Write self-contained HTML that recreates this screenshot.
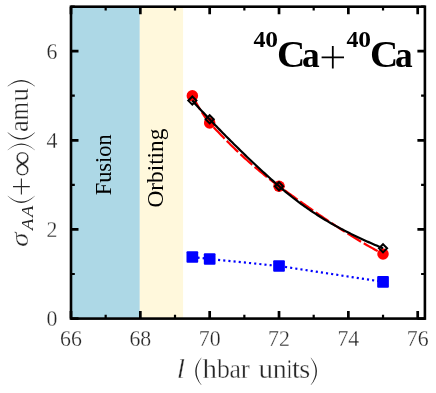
<!DOCTYPE html>
<html><head><meta charset="utf-8"><title>chart</title>
<style>html,body{margin:0;padding:0;background:#fff;}svg{display:block;will-change:transform;}text{font-family:"Liberation Serif",serif;}</style></head><body>
<svg width="436" height="393" viewBox="0 0 436 393">
<rect width="436" height="393" fill="#fff"/>
<rect x="71.00" y="6.70" width="68.80" height="311.90" fill="#ADD8E6"/>
<rect x="139.80" y="6.70" width="43.30" height="311.90" fill="#FFF8DC"/>
<text transform="translate(111.4,195.3) rotate(-90)" font-size="23" textLength="61" lengthAdjust="spacingAndGlyphs" fill="#000">Fusion</text>
<text transform="translate(162.5,207.6) rotate(-90)" font-size="22.5" textLength="79" lengthAdjust="spacingAndGlyphs" fill="#000">Orbiting</text>
<polyline points="192.34,95.70 193.95,98.71 195.55,101.65 197.15,104.52 198.75,107.29 200.36,109.96 201.96,112.52 203.56,114.96 205.16,117.25 206.77,119.40 208.37,121.39 209.97,123.21 211.57,124.97 213.18,126.71 214.78,128.43 216.38,130.14 217.98,131.84 219.59,133.52 221.19,135.19 222.79,136.85 224.39,138.49 226.00,140.12 227.60,141.74 229.20,143.34 230.80,144.92 232.40,146.50 234.01,148.06 235.61,149.60 237.21,151.13 238.81,152.65 240.42,154.15 242.02,155.64 243.62,157.12 245.22,158.58 246.83,160.03 248.43,161.46 250.03,162.89 251.63,164.29 253.24,165.69 254.84,167.06 256.44,168.43 258.04,169.78 259.65,171.12 261.25,172.44 262.85,173.75 264.45,175.05 266.06,176.33 267.66,177.60 269.26,178.85 270.86,180.10 272.46,181.32 274.07,182.54 275.67,183.73 277.27,184.92 278.87,186.09 280.48,187.25 282.08,188.42 283.68,189.58 285.28,190.74 286.89,191.90 288.49,193.05 290.09,194.21 291.69,195.36 293.30,196.51 294.90,197.66 296.50,198.81 298.10,199.95 299.71,201.09 301.31,202.23 302.91,203.37 304.51,204.50 306.12,205.64 307.72,206.76 309.32,207.89 310.92,209.01 312.52,210.13 314.13,211.24 315.73,212.35 317.33,213.46 318.93,214.56 320.54,215.66 322.14,216.76 323.74,217.85 325.34,218.93 326.95,220.02 328.55,221.09 330.15,222.16 331.75,223.23 333.36,224.29 334.96,225.35 336.56,226.40 338.16,227.45 339.77,228.48 341.37,229.52 342.97,230.55 344.57,231.57 346.17,232.59 347.78,233.59 349.38,234.60 350.98,235.59 352.58,236.58 354.19,237.57 355.79,238.54 357.39,239.51 358.99,240.48 360.60,241.43 362.20,242.38 363.80,243.32 365.40,244.25 367.01,245.17 368.61,246.09 370.21,247.00 371.81,247.90 373.42,248.79 375.02,249.67 376.62,250.55 378.22,251.41 379.83,252.27 381.43,253.12 383.03,253.96" fill="none" stroke="#ff0000" stroke-width="2.2" stroke-dasharray="15.95 3.1"/>
<circle cx="192.34" cy="95.70" r="5.75" fill="#ff0000"/>
<circle cx="209.68" cy="122.89" r="5.75" fill="#ff0000"/>
<circle cx="279.02" cy="186.20" r="5.75" fill="#ff0000"/>
<circle cx="383.03" cy="253.96" r="5.75" fill="#ff0000"/>
<polyline points="192.34,100.60 193.95,102.41 195.55,104.20 197.15,105.97 198.75,107.72 200.36,109.45 201.96,111.16 203.56,112.87 205.16,114.57 206.77,116.26 208.37,117.95 209.97,119.63 211.57,121.32 213.18,122.99 214.78,124.66 216.38,126.32 217.98,127.98 219.59,129.63 221.19,131.27 222.79,132.91 224.39,134.54 226.00,136.16 227.60,137.78 229.20,139.39 230.80,140.99 232.40,142.59 234.01,144.18 235.61,145.76 237.21,147.34 238.81,148.91 240.42,150.48 242.02,152.03 243.62,153.58 245.22,155.13 246.83,156.67 248.43,158.20 250.03,159.73 251.63,161.24 253.24,162.76 254.84,164.26 256.44,165.76 258.04,167.26 259.65,168.74 261.25,170.22 262.85,171.69 264.45,173.16 266.06,174.62 267.66,176.08 269.26,177.52 270.86,178.96 272.46,180.40 274.07,181.83 275.67,183.25 277.27,184.66 278.87,186.07 280.48,187.47 282.08,188.84 283.68,190.21 285.28,191.55 286.89,192.87 288.49,194.18 290.09,195.47 291.69,196.74 293.30,198.00 294.90,199.24 296.50,200.46 298.10,201.67 299.71,202.86 301.31,204.04 302.91,205.20 304.51,206.34 306.12,207.47 307.72,208.59 309.32,209.69 310.92,210.77 312.52,211.85 314.13,212.90 315.73,213.95 317.33,214.98 318.93,216.00 320.54,217.00 322.14,217.99 323.74,218.97 325.34,219.94 326.95,220.89 328.55,221.83 330.15,222.76 331.75,223.68 333.36,224.59 334.96,225.49 336.56,226.37 338.16,227.25 339.77,228.11 341.37,228.97 342.97,229.81 344.57,230.64 346.17,231.47 347.78,232.29 349.38,233.09 350.98,233.89 352.58,234.68 354.19,235.46 355.79,236.23 357.39,236.99 358.99,237.75 360.60,238.50 362.20,239.24 363.80,239.97 365.40,240.70 367.01,241.42 368.61,242.13 370.21,242.84 371.81,243.54 373.42,244.24 375.02,244.93 376.62,245.61 378.22,246.29 379.83,246.96 381.43,247.63 383.03,248.30" fill="none" stroke="#000" stroke-width="2.2"/>
<path d="M192.34 96.53L196.41 100.60L192.34 104.67L188.28 100.60Z" fill="none" stroke="#000" stroke-width="2" stroke-linejoin="miter"/>
<path d="M209.68 115.26L213.75 119.33L209.68 123.40L205.61 119.33Z" fill="none" stroke="#000" stroke-width="2" stroke-linejoin="miter"/>
<path d="M279.02 182.13L283.09 186.20L279.02 190.27L274.95 186.20Z" fill="none" stroke="#000" stroke-width="2" stroke-linejoin="miter"/>
<path d="M383.03 244.23L387.10 248.30L383.03 252.37L378.96 248.30Z" fill="none" stroke="#000" stroke-width="2" stroke-linejoin="miter"/>
<polyline points="192.34,256.99 209.68,259.00 279.02,266.00 383.03,281.82" fill="none" stroke="#0000ff" stroke-width="2.2" stroke-dasharray="2.1 3.08"/>
<rect x="186.50" y="251.14" width="11.70" height="11.70" rx="1" fill="#0000ff"/>
<rect x="203.83" y="253.15" width="11.70" height="11.70" rx="1" fill="#0000ff"/>
<rect x="273.17" y="260.15" width="11.70" height="11.70" rx="1" fill="#0000ff"/>
<rect x="377.18" y="275.97" width="11.70" height="11.70" rx="1" fill="#0000ff"/>
<path d="M71.00 318.60v-7.50M71.00 6.70v7.50M140.34 318.60v-7.50M140.34 6.70v7.50M209.68 318.60v-7.50M209.68 6.70v7.50M279.02 318.60v-7.50M279.02 6.70v7.50M348.36 318.60v-7.50M348.36 6.70v7.50M417.70 318.60v-7.50M417.70 6.70v7.50M71.00 318.60h7.50M424.90 318.60h-7.50M71.00 229.44h7.50M424.90 229.44h-7.50M71.00 140.28h7.50M424.90 140.28h-7.50M71.00 51.12h7.50M424.90 51.12h-7.50" stroke="#000" stroke-width="2.7" fill="none"/>
<path d="M105.67 318.60v-3.80M105.67 6.70v3.80M175.01 318.60v-3.80M175.01 6.70v3.80M244.35 318.60v-3.80M244.35 6.70v3.80M313.69 318.60v-3.80M313.69 6.70v3.80M383.03 318.60v-3.80M383.03 6.70v3.80M71.00 274.02h3.80M424.90 274.02h-3.80M71.00 184.86h3.80M424.90 184.86h-3.80M71.00 95.70h3.80M424.90 95.70h-3.80M71.00 6.54h3.80M424.90 6.54h-3.80" stroke="#000" stroke-width="2.2" fill="none"/>
<rect x="71.00" y="6.70" width="353.90" height="311.90" fill="none" stroke="#000" stroke-width="2.6"/>
<text transform="translate(71.00,346.2) scale(0.91,1)" text-anchor="middle" font-size="24" fill="#262626" stroke="#fff" stroke-width="0.3">66</text>
<text transform="translate(140.34,346.2) scale(0.91,1)" text-anchor="middle" font-size="24" fill="#262626" stroke="#fff" stroke-width="0.3">68</text>
<text transform="translate(209.68,346.2) scale(0.91,1)" text-anchor="middle" font-size="24" fill="#262626" stroke="#fff" stroke-width="0.3">70</text>
<text transform="translate(279.02,346.2) scale(0.91,1)" text-anchor="middle" font-size="24" fill="#262626" stroke="#fff" stroke-width="0.3">72</text>
<text transform="translate(348.36,346.2) scale(0.91,1)" text-anchor="middle" font-size="24" fill="#262626" stroke="#fff" stroke-width="0.3">74</text>
<text transform="translate(417.70,346.2) scale(0.91,1)" text-anchor="middle" font-size="24" fill="#262626" stroke="#fff" stroke-width="0.3">76</text>
<text transform="translate(57.4,326.30) scale(0.91,1)" text-anchor="end" font-size="24" fill="#262626" stroke="#fff" stroke-width="0.3">0</text>
<text transform="translate(57.4,237.14) scale(0.91,1)" text-anchor="end" font-size="24" fill="#262626" stroke="#fff" stroke-width="0.3">2</text>
<text transform="translate(57.4,147.98) scale(0.91,1)" text-anchor="end" font-size="24" fill="#262626" stroke="#fff" stroke-width="0.3">4</text>
<text transform="translate(57.4,58.82) scale(0.91,1)" text-anchor="end" font-size="24" fill="#262626" stroke="#fff" stroke-width="0.3">6</text>
<text transform="translate(176.72,378.40) scale(1.122,1)" font-size="26.40" font-style="italic" fill="#262626" stroke="#fff" stroke-width="0.35">l</text>
<path d="M201.20 357.70Q189.20 371.40 201.20 385.10L201.55 385.10Q191.65 371.40 201.55 357.70Z" fill="#262626"/>
<text transform="translate(202.42,378.40) scale(1.092,1)" font-size="26.50" fill="#262626" stroke="#fff" stroke-width="0.35">h</text>
<text transform="translate(217.10,378.40) scale(0.972,1)" font-size="26.50" fill="#262626" stroke="#fff" stroke-width="0.35">b</text>
<text transform="translate(229.59,378.40) scale(0.974,1)" font-size="26.50" fill="#262626" stroke="#fff" stroke-width="0.35">a</text>
<text transform="translate(240.86,378.40) scale(1.017,1)" font-size="26.50" fill="#262626" stroke="#fff" stroke-width="0.35">r</text>
<text transform="translate(258.42,378.40) scale(1.101,1)" font-size="26.50" fill="#262626" stroke="#fff" stroke-width="0.35">u</text>
<text transform="translate(272.76,378.40) scale(1.054,1)" font-size="26.50" fill="#262626" stroke="#fff" stroke-width="0.35">n</text>
<text transform="translate(286.79,378.40) scale(0.730,1)" font-size="26.50" fill="#262626" stroke="#fff" stroke-width="0.35">i</text>
<text transform="translate(292.02,378.40) scale(1.065,1)" font-size="26.50" fill="#262626" stroke="#fff" stroke-width="0.35">t</text>
<text transform="translate(299.24,378.40) scale(1.064,1)" font-size="26.50" fill="#262626" stroke="#fff" stroke-width="0.35">s</text>
<path d="M311.00 357.70Q323.00 371.40 311.00 385.10L310.65 385.10Q320.55 371.40 310.65 357.70Z" fill="#262626"/>
<g transform="translate(28,246.1) rotate(-90)">
<text transform="translate(-0.87,0.20) scale(1.195,1)" font-size="24.50" font-style="italic" fill="#262626" stroke="#fff" stroke-width="0.35">σ</text>
<text transform="translate(16.21,4.80) scale(1.065,1)" font-size="17.40" font-style="italic" fill="#262626">A</text>
<text transform="translate(29.01,4.80) scale(1.065,1)" font-size="17.40" font-style="italic" fill="#262626">A</text>
<path d="M50.00 -20.30Q36.20 -6.70 50.00 6.90L50.35 6.90Q38.65 -6.70 50.35 -20.30Z" fill="#262626"/>
<path d="M51.5 -6.6h16M59.5 -15v16.8" stroke="#262626" stroke-width="1.1" fill="none"/>
<text transform="translate(69.23,4.30) scale(1.108,1)" font-size="33.00" fill="#262626" stroke="#fff" stroke-width="0.35">∞</text>
<path d="M96.20 -20.30Q109.20 -6.70 96.20 6.90L95.85 6.90Q106.75 -6.70 95.85 -20.30Z" fill="#262626"/>
<path d="M113.40 -20.30Q99.60 -6.70 113.40 6.90L113.75 6.90Q102.05 -6.70 113.75 -20.30Z" fill="#262626"/>
<text transform="translate(114.17,0.20) scale(1.003,1)" font-size="26.50" fill="#262626" stroke="#fff" stroke-width="0.35">a</text>
<text transform="translate(125.81,0.20) scale(0.876,1)" font-size="26.50" fill="#262626" stroke="#fff" stroke-width="0.35">m</text>
<text transform="translate(144.34,0.20) scale(1.044,1)" font-size="26.50" fill="#262626" stroke="#fff" stroke-width="0.35">u</text>
<path d="M160.00 -20.30Q172.20 -6.70 160.00 6.90L159.65 6.90Q169.75 -6.70 159.65 -20.30Z" fill="#262626"/>
</g>
<text transform="translate(253.57,47.10) scale(1.028,1)" font-size="23.30" font-weight="bold" fill="#000">4</text>
<text transform="translate(265.13,46.90) scale(1.094,1)" font-size="23.30" font-weight="bold" fill="#000">0</text>
<text transform="translate(277.09,66.70) scale(1.045,1)" font-size="37.50" font-weight="bold" fill="#000">C</text>
<text transform="translate(301.96,66.70) scale(0.996,1)" font-size="35.50" font-weight="bold" fill="#000">a</text>
<text transform="translate(346.57,47.10) scale(1.028,1)" font-size="23.30" font-weight="bold" fill="#000">4</text>
<text transform="translate(358.13,46.90) scale(1.094,1)" font-size="23.30" font-weight="bold" fill="#000">0</text>
<text transform="translate(370.09,66.70) scale(1.045,1)" font-size="37.50" font-weight="bold" fill="#000">C</text>
<text transform="translate(394.96,66.70) scale(0.996,1)" font-size="35.50" font-weight="bold" fill="#000">a</text>
<path d="M321.6 57.3h22.4M332.8 46v22.6" stroke="#000" stroke-width="1.8" fill="none"/>
</svg></body></html>
